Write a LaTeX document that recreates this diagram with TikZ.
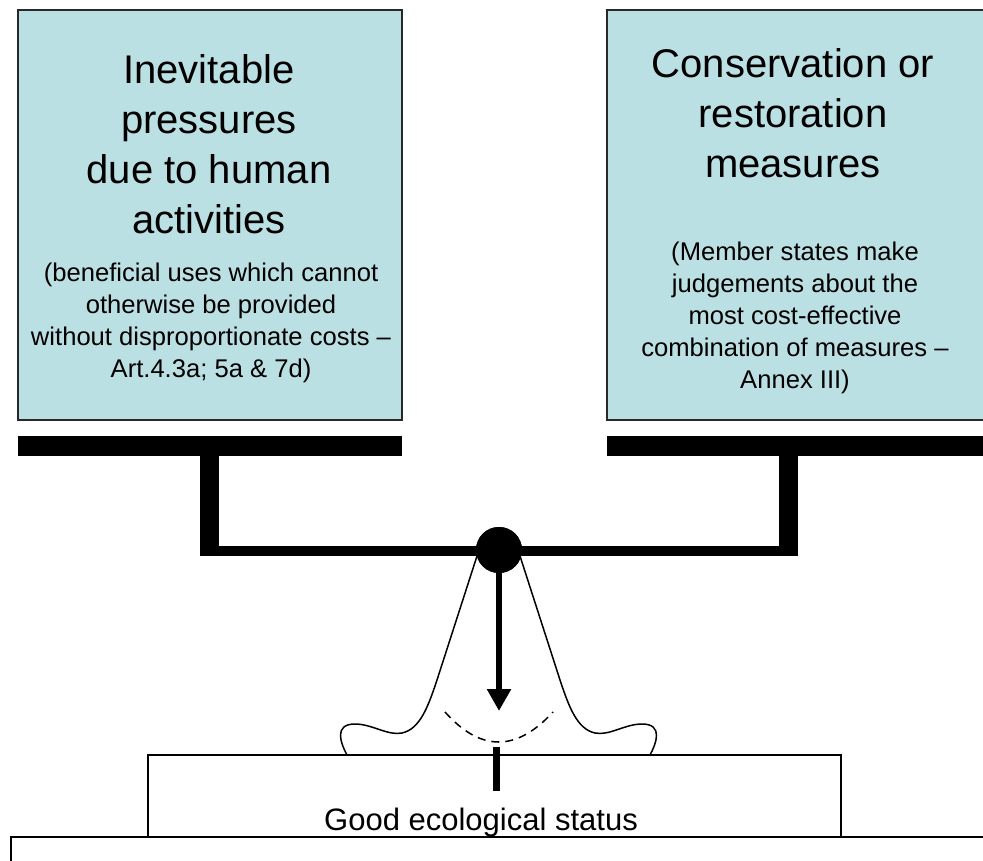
\documentclass[tikz,border=0pt]{standalone}
\usepackage{fontspec}
\setmainfont{Liberation Sans}
\usetikzlibrary{arrows.meta}
\definecolor{boxfill}{RGB}{187,224,227}
\definecolor{boxline}{RGB}{40,40,40}
\begin{document}
\begin{tikzpicture}[x=1pt,y=-1pt,
  panel/.style={draw=boxline, fill=boxfill, line width=1.5pt},
  beam/.style={fill=black},
  titletext/.style={font=\fontsize{40}{50}\selectfont, align=center, inner sep=0pt, anchor=north},
  notetext/.style={font=\fontsize{25.6}{32}\selectfont, align=center, inner sep=0pt, anchor=north},
  outline/.style={draw=black, line width=2pt},
  bell/.style={draw=black, line width=1.5pt, line join=round},
  dashline/.style={draw=black, line width=1.5pt, dash pattern=on 8pt off 6pt},
  weight/.style={draw=black, line width=6.7pt, -{Triangle[length=22pt,width=23pt]}}
]
\useasboundingbox (0,0) rectangle (983,861);
\clip (0,0) rectangle (983,861);

% pans
\draw[panel] (18,10) rectangle (402,420);
\draw[panel] (607,10) rectangle (1000,420);

% beams and arms
\fill[beam] (18,436) rectangle (402,456);
\fill[beam] (607,436) rectangle (1000,456);
\fill[beam] (200,456) rectangle (219,556);
\fill[beam] (779,456) rectangle (798,556);
\fill[beam] (200,546) rectangle (798,556);

% bell-shaped stand
\draw[bell] (347,755) .. controls (341,744) and (333,724) .. (355,724)
  .. controls (372,724) and (388,736) .. (402,733)
  .. controls (420,729) and (428,707) .. (437,680) -- (477,556)
  -- (499,548) -- (520,556) -- (560,680)
  .. controls (569,707) and (577,729) .. (595,733)
  .. controls (609,736) and (625,724) .. (642,724)
  .. controls (664,724) and (656,744) .. (650,755);

% dashed arc
\draw[dashline] (445,712) .. controls (480.7,752) and (516.3,752) .. (553,712);

% pivot and arrow
\node[circle, fill=black, inner sep=0pt, minimum size=46pt] (pivot) at (499,550) {};
\coordinate (arrowtip) at (499,711);
\draw[weight] (pivot.center) -- (arrowtip);
\node[circle, fill=black, inner sep=0pt, minimum size=46pt] (pivottop) at (499,550) {};

% base blocks
\draw[outline] (148,755) rectangle (841,837);
\draw[outline] (11,837) rectangle (1000,900);

% marker tick
\coordinate (ticktop) at (496.5,747);
\coordinate (tickbot) at (496.5,791);
\draw[black, line width=7.5pt] (ticktop) -- (tickbot);

% texts
\node[titletext] (lefttitle) at (209,54) {Inevitable\\pressures\\due to human\\activities};
\node[notetext] (leftnote) at (211,263) {(beneficial uses which cannot\\otherwise be provided\\without disproportionate costs –\\Art.4.3a; 5a \& 7d)};
\node[titletext] (righttitle) at (793,48.5) {Conservation or\\restoration\\measures};
\node[notetext] (rightnote) at (795,242) {(Member states make\\judgements about the\\most cost-effective\\combination of measures –\\Annex III)};
\node[font=\fontsize{31}{36}\selectfont, inner sep=0pt, anchor=base] (goodstatus) at (481,830) {Good ecological status};
\end{tikzpicture}
\end{document}
